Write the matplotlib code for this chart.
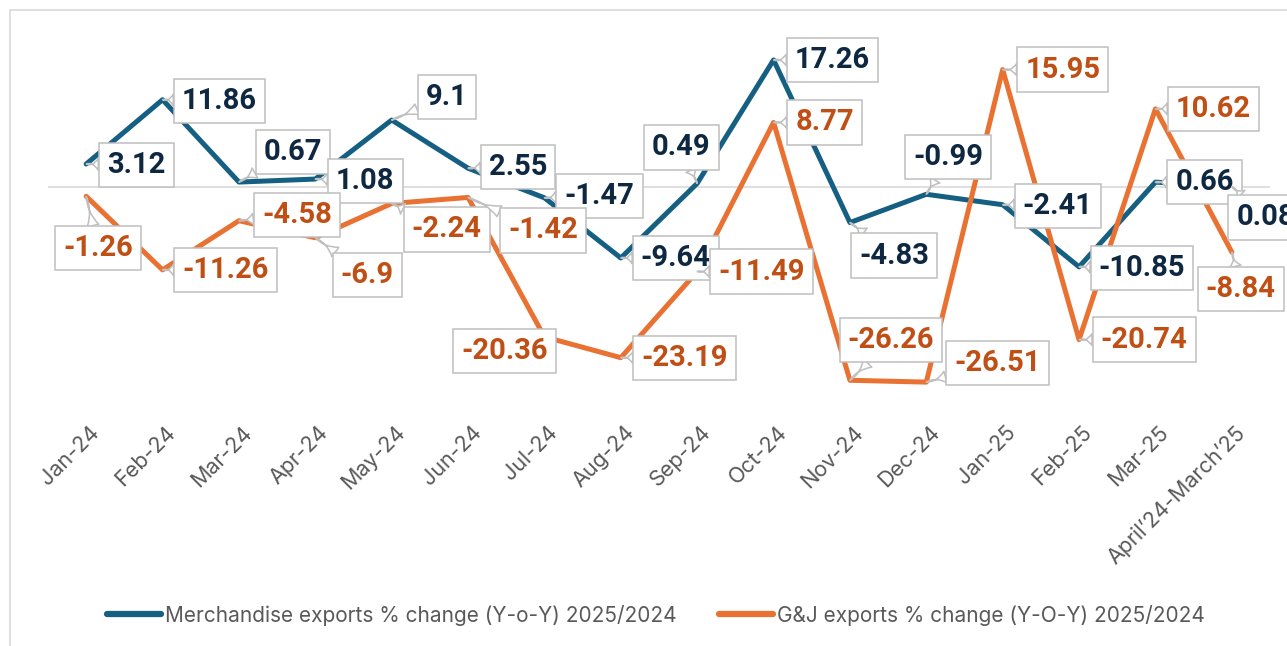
import matplotlib
matplotlib.use("Agg")
import matplotlib.pyplot as plt
from matplotlib.patches import Rectangle
from matplotlib.lines import Line2D
from matplotlib.transforms import ScaledTranslation

plt.rcParams['font.family'] = ['Inter', 'DejaVu Sans']

months = ['Jan-24', 'Feb-24', 'Mar-24', 'Apr-24', 'May-24', 'Jun-24', 'Jul-24', 'Aug-24',
          'Sep-24', 'Oct-24', 'Nov-24', 'Dec-24', 'Jan-25', 'Feb-25', 'Mar-25',
          'April\u201924-March\u201925']
merch = [3.12, 11.86, 0.67, 1.08, 9.1, 2.55, -1.47, -9.64, 0.49, 17.26, -4.83, -0.99,
         -2.41, -10.85, 0.66, 0.08]
gj = [-1.26, -11.26, -4.58, -6.9, -2.24, -1.42, -20.36, -23.19, -11.49, 8.77, -26.26,
      -26.51, 15.95, -20.74, 10.62, -8.84]
merch_label = 'Merchandise exports % change (Y-o-Y) 2025/2024'
gj_label = 'G&J exports % change (Y-O-Y) 2025/2024'

# label offsets from the point, in pixels (right, down)
merch_off = [(50, 1), (57, 1), (54, -30), (50, 2), (55, -23), (50, -1), (55, -2), (55, 0),
             (-16, -36), (59, 0), (44, 33), (22, -37), (55, 1), (63, 1), (49, 0), (34, 31)]
gj_off = [(12, 52), (63, 0), (58, -6), (52, 37), (55, 26), (75, 33), (-40, 14), (64, 0),
          (64, 0), (51, 0), (41, -40), (71, -19), (60, 0), (65, 0), (58, 0), (9, 37)]

blue = '#156082'
orange = '#E97132'
blue_txt = '#0E2841'
orange_txt = '#C04F15'
grey_txt = '#595959'

W, H = 1287, 646
fig = plt.figure(figsize=(W / 100, H / 100), dpi=100)
ax = fig.add_axes([48 / W, 1 - 425 / H, 1222 / W, 395 / H])

x = list(range(len(months)))
ax.axhline(0, color='#D9D9D9', lw=1.2, zorder=1)
ax.plot(x, merch, color=blue, lw=3.6, solid_joinstyle='round', solid_capstyle='round', zorder=2)
ax.plot(x, gj, color=orange, lw=3.6, solid_joinstyle='round', solid_capstyle='round', zorder=2)

ax.set_xlim(-0.5, len(months) - 0.5)
ax.set_ylim(-(425 - 187) / 7.36, (187 - 30) / 7.36)
for s in ax.spines.values():
    s.set_visible(False)
ax.set_yticks([])
ax.set_xticks(x)
ax.set_xticklabels(months, rotation=45, ha='right', rotation_mode='anchor',
                   fontsize=15.5, color=grey_txt)
ax.tick_params(axis='x', length=0, pad=-2)
for lab in ax.get_xticklabels():
    lab.set_transform(lab.get_transform() + ScaledTranslation(0.03, 0, fig.dpi_scale_trans))


def label(vals, offs, col, z):
    for i, (v, (dx, dy)) in enumerate(zip(vals, offs)):
        ax.annotate(f'{v:g}', xy=(i, v), xytext=(dx * 0.72, -dy * 0.72),
                    textcoords='offset points', ha='center', va='center',
                    fontsize=21, fontweight='bold', color=col, zorder=z + i * 0.01,
                    family=['Roboto', 'DejaVu Sans'], annotation_clip=False,
                    bbox=dict(boxstyle='square,pad=0.28', fc='white', ec='#BFBFBF', lw=1.1),
                    arrowprops=dict(arrowstyle='wedge,tail_width=0.4,shrink_factor=0',
                                    fc='white', ec='#BFBFBF', lw=1.1,
                                    shrinkA=0, shrinkB=0))


label(merch, merch_off, blue_txt, 3)
label(gj, gj_off, orange_txt, 4)

handles = [Line2D([], [], color=blue, lw=4.5, solid_capstyle='round'),
           Line2D([], [], color=orange, lw=4.5, solid_capstyle='round')]
fig.legend(handles, [merch_label, gj_label], loc='center', ncol=2,
           bbox_to_anchor=(656 / W, 1 - 615 / H), frameon=False, fontsize=15,
           labelcolor=grey_txt, handlelength=2.6, handletextpad=0.2, columnspacing=2.0)

fig.patches.append(Rectangle((10 / W, -0.1), 1.2, (H - 10) / H + 0.1, transform=fig.transFigure,
                             fill=False, ec='#D9D9D9', lw=1.2))

fig.savefig('out.png', dpi=100)
